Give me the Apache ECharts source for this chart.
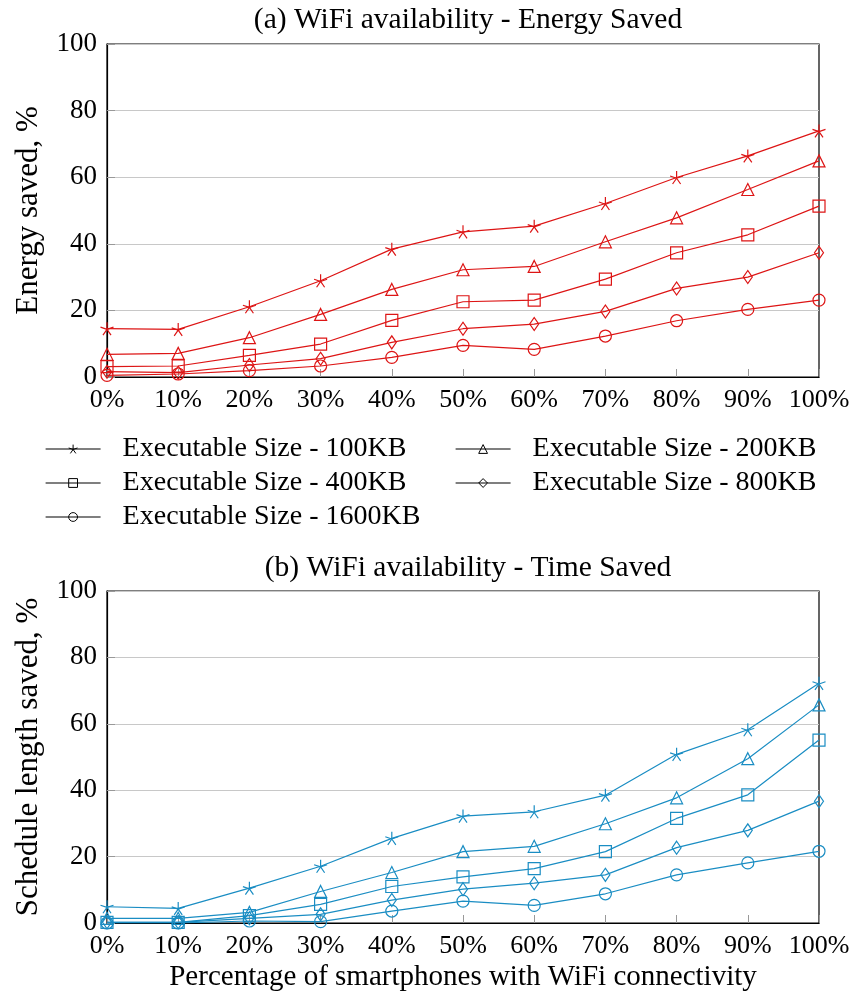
<!DOCTYPE html>
<html>
<head>
<meta charset="utf-8">
<script src="https://cdn.jsdelivr.net/npm/echarts@6/dist/echarts.min.js"></script>
<style>
  html, body { margin: 0; padding: 0; background: #fff; }
  #chart { width: 853px; height: 993px; }
</style>
</head>
<body>
<div id="chart"></div>
<script>
// x categories (percentage of smartphones with WiFi)
const categories = ['0%', '10%', '20%', '30%', '40%', '50%', '60%', '70%', '80%', '90%', '100%'];
const seriesNames = [
  'Executable Size - 100KB',
  'Executable Size - 200KB',
  'Executable Size - 400KB',
  'Executable Size - 800KB',
  'Executable Size - 1600KB'
];
const yTicks = [0, 20, 40, 60, 80, 100];

// (a) energy saved, %
const energy100 = [14.5, 14.3, 21.1, 28.9, 38.4, 43.6, 45.3, 52.1, 59.9, 66.4, 73.9];
const energy200 = [6.8, 7.1, 11.8, 18.8, 26.3, 32.2, 33.2, 40.6, 47.8, 56.3, 64.9];
const energy400 = [3.1, 3.3, 6.5, 9.9, 17.0, 22.6, 23.1, 29.4, 37.3, 42.7, 51.3];
const energy800 = [1.6, 1.3, 3.6, 5.5, 10.4, 14.5, 15.9, 19.7, 26.6, 30.0, 37.3];
const energy1600 = [0.5, 0.9, 1.9, 3.3, 5.9, 9.5, 8.3, 12.3, 16.9, 20.3, 23.1];

// (b) schedule length saved, %
const time100 = [4.9, 4.4, 10.5, 17.1, 25.5, 32.2, 33.5, 38.5, 50.8, 58.2, 72.2];
const time200 = [1.4, 1.4, 3.2, 9.5, 15.2, 21.5, 23.1, 29.9, 37.7, 49.5, 65.7];
const time400 = [0.2, 0.2, 2.2, 5.6, 11.0, 13.9, 16.4, 21.5, 31.5, 38.6, 55.1];
const time800 = [0.2, 0.2, 1.4, 2.6, 6.9, 10.2, 12.0, 14.5, 22.7, 27.9, 36.7];
const time1600 = [0.0, 0.0, 0.6, 0.4, 3.6, 6.6, 5.3, 8.8, 14.5, 18.1, 21.6];

const energyData = [energy100, energy200, energy400, energy800, energy1600];
const timeData = [time100, time200, time400, time800, time1600];

const RED = '#dd1515';
const BLUE = '#1a8dc3';
const FONT = 'Liberation Serif';

// 5-armed asterisk like pgfplots "star"
const STAR = 'path://M0 0L0 -1M0 0L0.951 -0.309M0 0L0.588 0.809M0 0L-0.588 0.809M0 0L-0.951 -0.309';
const symbols = [STAR, 'triangle', 'rect', 'diamond', 'circle'];
const symbolSizes = [13, 12, 12, [9, 13], 12];

const chart = echarts.init(document.getElementById('chart'));

function makeSeries(dataList, color, gridIdx) {
  return dataList.map((d, i) => ({
    name: seriesNames[i],
    type: 'line',
    xAxisIndex: gridIdx,
    yAxisIndex: gridIdx,
    data: d,
    symbol: symbols[i],
    symbolSize: symbolSizes[i],
    showAllSymbol: true,
    lineStyle: { color: color, width: 1.2 },
    itemStyle: { color: 'transparent', borderColor: color, borderWidth: 1.2 },
    emphasis: { disabled: true },
    animation: false
  }));
}

function xAxisOf(gridIdx, withName) {
  return {
    type: 'category',
    gridIndex: gridIdx,
    data: categories,
    boundaryGap: false,
    name: withName ? 'Percentage of smartphones with WiFi connectivity' : '',
    nameLocation: 'middle',
    nameGap: 40,
    nameTextStyle: { fontFamily: FONT, fontSize: 29, color: '#000' },
    axisLine: { lineStyle: { color: '#000', width: 1.2 } },
    axisTick: { show: true, inside: true, length: 8, interval: 0, lineStyle: { color: '#999' } },
    axisLabel: { fontFamily: FONT, fontSize: 26, color: '#000', margin: 10, interval: 0, hideOverlap: false },
    splitLine: { show: false }
  };
}

function yAxisOf(gridIdx, name) {
  return {
    type: 'value',
    gridIndex: gridIdx,
    min: 0,
    max: 100,
    interval: 20,
    name: name,
    nameLocation: 'middle',
    nameGap: 63,
    nameTextStyle: { fontFamily: FONT, fontSize: 31, color: '#000' },
    axisLine: { show: true, lineStyle: { color: '#000', width: 1.2 } },
    axisTick: { show: true, inside: true, length: 8, lineStyle: { color: '#999' } },
    axisLabel: {
      fontFamily: FONT, fontSize: 27, color: '#000', margin: 10,
      formatter: v => (yTicks.indexOf(v) >= 0 ? String(v) : '')
    },
    splitLine: { show: true, lineStyle: { color: '#c8c8c8', width: 1.2 } }
  };
}

function legendData(names) {
  return names.map(n => ({
    name: n,
    itemStyle: { color: 'transparent', borderColor: '#000', borderWidth: 1 },
    lineStyle: { color: '#000', width: 1.2 }
  }));
}

const legendCommon = {
  orient: 'vertical',
  padding: 0,
  itemWidth: 55,
  itemHeight: 11,
  itemGap: 6,
  selectedMode: false,
  textStyle: { fontFamily: FONT, fontSize: 28, color: '#000', padding: [0, 0, 0, 17] }
};

const option = {
  backgroundColor: '#fff',
  animation: false,
  title: [
    {
      text: '(a) WiFi availability - Energy Saved',
      left: 463, top: 0, textAlign: 'center',
      textStyle: { fontFamily: FONT, fontSize: 29.5, fontWeight: 'normal', color: '#000' }
    },
    {
      text: '(b) WiFi availability - Time Saved',
      left: 463, top: 548, textAlign: 'center',
      textStyle: { fontFamily: FONT, fontSize: 29.5, fontWeight: 'normal', color: '#000' }
    }
  ],
  legend: [
    Object.assign({}, legendCommon, {
      left: 45, top: 435,
      data: legendData([seriesNames[0], seriesNames[2], seriesNames[4]])
    }),
    Object.assign({}, legendCommon, {
      left: 455, top: 435,
      data: legendData([seriesNames[1], seriesNames[3]])
    })
  ],
  grid: [
    { left: 107, right: 34, top: 44, height: 333, show: true, borderColor: '#000', borderWidth: 1.2, backgroundColor: 'transparent' },
    { left: 107, right: 34, top: 591, height: 333, show: true, borderColor: '#000', borderWidth: 1.2, backgroundColor: 'transparent' }
  ],
  xAxis: [xAxisOf(0, false), xAxisOf(1, true)],
  yAxis: [yAxisOf(0, 'Energy saved, %'), yAxisOf(1, 'Schedule length saved, %')],
  series: makeSeries(energyData, RED, 0).concat(makeSeries(timeData, BLUE, 1))
};

chart.setOption(option);
</script>
</body>
</html>
